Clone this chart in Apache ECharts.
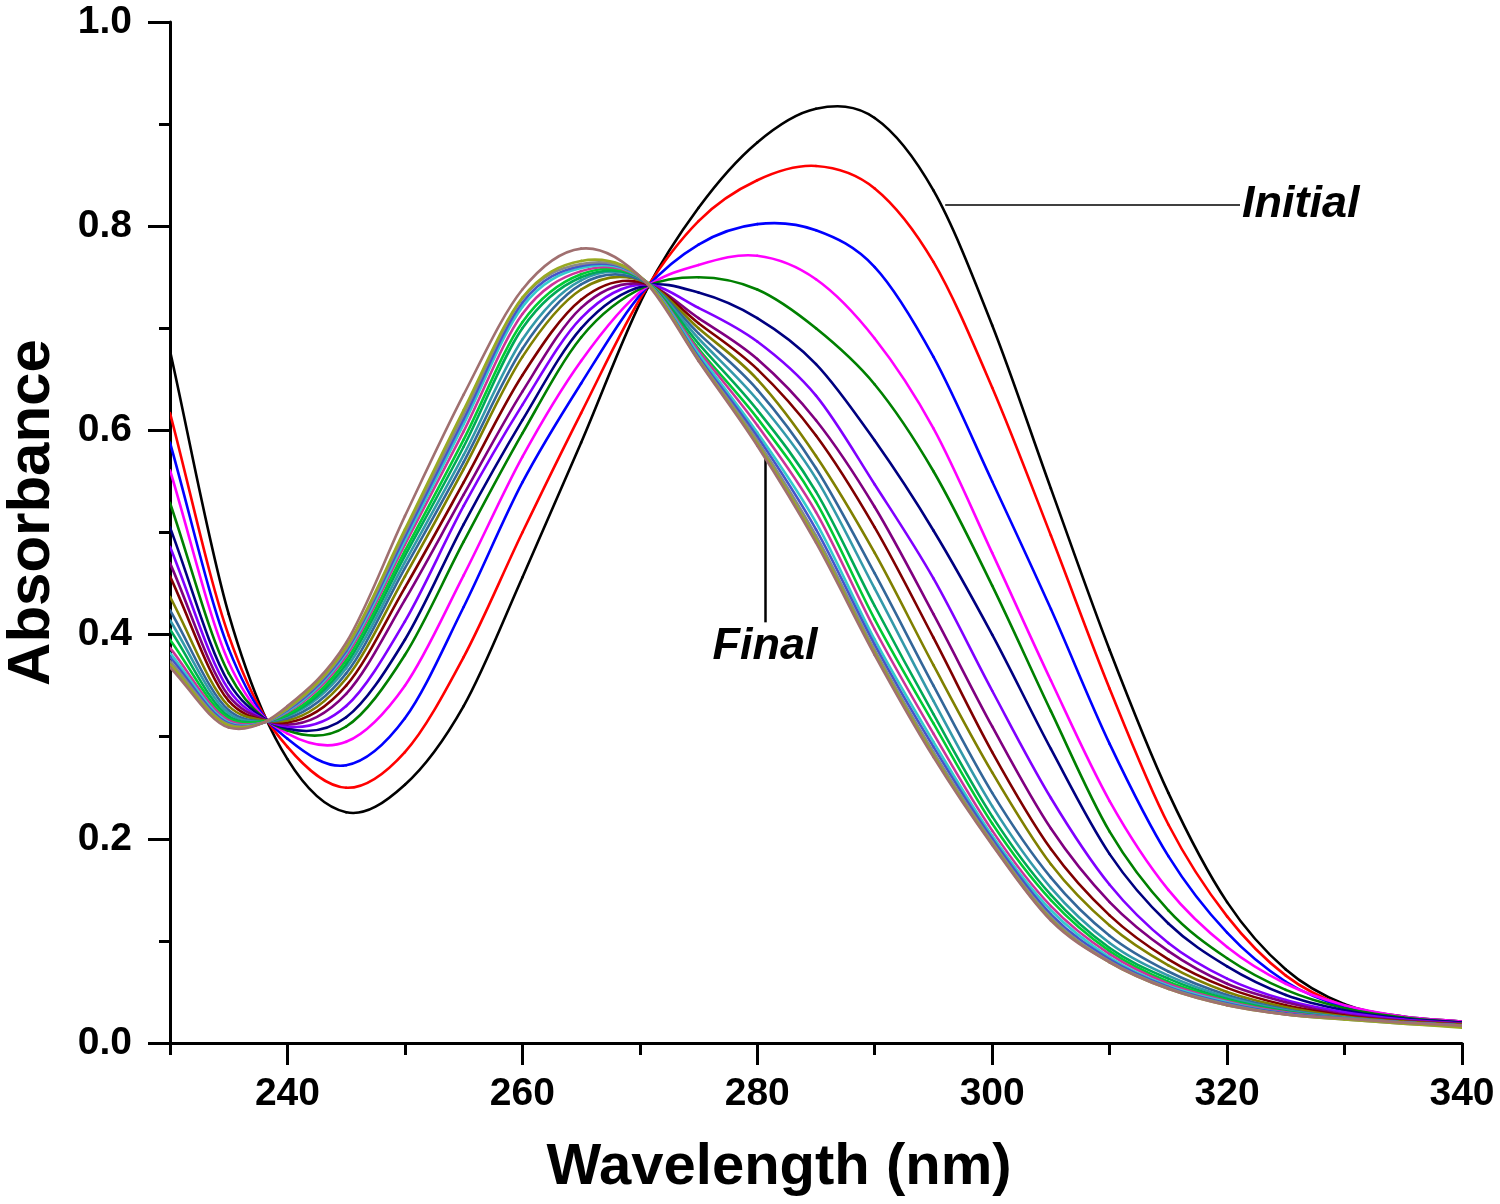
<!DOCTYPE html>
<html>
<head>
<meta charset="utf-8">
<title>Absorbance vs Wavelength</title>
<script src="https://cdn.jsdelivr.net/npm/echarts@6/dist/echarts.min.js"></script>
<style>
  html, body { margin: 0; padding: 0; background: #fff; }
  #chart { width: 1500px; height: 1204px; }
</style>
</head>
<body>
<div id="chart"></div>
<script>
// wavelength grid (nm)
const wavelength = [230, 235, 238, 240, 245, 250, 255, 260, 265, 270.5, 275, 280, 285, 290, 295, 300, 305, 310, 315, 320, 325, 330, 335, 340]

// absorbance of each scan, initial (scan1) to final (scan20)
const scan1 = [0.678, 0.42, 0.322, 0.278, 0.226, 0.253, 0.33, 0.456, 0.588, 0.736, 0.818, 0.882, 0.915, 0.906, 0.835, 0.703, 0.543, 0.385, 0.245, 0.138, 0.072, 0.038, 0.026, 0.021]
const scan2 = [0.617, 0.399, 0.321, 0.29, 0.25, 0.285, 0.378, 0.5, 0.617, 0.738, 0.805, 0.845, 0.859, 0.837, 0.765, 0.642, 0.497, 0.347, 0.214, 0.124, 0.066, 0.036, 0.025, 0.02]
const scan3 = [0.588, 0.386, 0.32, 0.298, 0.272, 0.318, 0.427, 0.549, 0.646, 0.739, 0.782, 0.802, 0.796, 0.76, 0.672, 0.55, 0.425, 0.293, 0.183, 0.108, 0.06, 0.035, 0.025, 0.02]
const scan4 = [0.561, 0.373, 0.319, 0.303, 0.295, 0.35, 0.458, 0.574, 0.668, 0.74, 0.762, 0.771, 0.748, 0.69, 0.602, 0.48, 0.355, 0.237, 0.15, 0.094, 0.058, 0.037, 0.026, 0.021]
const scan5 = [0.529, 0.362, 0.318, 0.306, 0.31, 0.38, 0.491, 0.597, 0.691, 0.741, 0.75, 0.738, 0.7, 0.645, 0.56, 0.448, 0.325, 0.207, 0.13, 0.083, 0.052, 0.034, 0.025, 0.02]
const scan6 = [0.505, 0.353, 0.318, 0.308, 0.319, 0.395, 0.508, 0.61, 0.7, 0.742, 0.735, 0.71, 0.665, 0.59, 0.502, 0.4, 0.288, 0.185, 0.117, 0.075, 0.047, 0.032, 0.024, 0.02]
const scan7 = [0.486, 0.346, 0.317, 0.31, 0.33, 0.413, 0.526, 0.625, 0.71, 0.743, 0.72, 0.687, 0.634, 0.547, 0.455, 0.345, 0.24, 0.155, 0.098, 0.063, 0.042, 0.03, 0.023, 0.019]
const scan8 = [0.47, 0.34, 0.317, 0.312, 0.342, 0.434, 0.537, 0.638, 0.72, 0.743, 0.71, 0.67, 0.61, 0.525, 0.42, 0.31, 0.21, 0.138, 0.09, 0.058, 0.04, 0.028, 0.022, 0.019]
const scan9 = [0.457, 0.335, 0.316, 0.314, 0.35, 0.446, 0.549, 0.654, 0.728, 0.744, 0.705, 0.66, 0.595, 0.505, 0.397, 0.285, 0.19, 0.125, 0.082, 0.054, 0.037, 0.027, 0.021, 0.018]
const scan10 = [0.437, 0.33, 0.316, 0.316, 0.357, 0.457, 0.562, 0.672, 0.738, 0.745, 0.7, 0.65, 0.575, 0.48, 0.37, 0.265, 0.175, 0.115, 0.076, 0.05, 0.035, 0.026, 0.021, 0.018]
const scan11 = [0.424, 0.326, 0.315, 0.318, 0.362, 0.465, 0.569, 0.68, 0.743, 0.745, 0.695, 0.64, 0.563, 0.46, 0.35, 0.245, 0.162, 0.105, 0.07, 0.047, 0.033, 0.025, 0.02, 0.017]
const scan12 = [0.414, 0.323, 0.315, 0.32, 0.367, 0.471, 0.576, 0.689, 0.747, 0.746, 0.69, 0.63, 0.553, 0.445, 0.335, 0.232, 0.152, 0.098, 0.066, 0.045, 0.032, 0.025, 0.02, 0.017]
const scan13 = [0.405, 0.32, 0.315, 0.321, 0.371, 0.477, 0.584, 0.7, 0.75, 0.746, 0.685, 0.62, 0.54, 0.428, 0.322, 0.222, 0.145, 0.093, 0.063, 0.043, 0.031, 0.024, 0.02, 0.017]
const scan14 = [0.395, 0.318, 0.315, 0.322, 0.375, 0.482, 0.591, 0.706, 0.753, 0.746, 0.68, 0.612, 0.53, 0.415, 0.313, 0.215, 0.14, 0.09, 0.06, 0.042, 0.03, 0.024, 0.02, 0.017]
const scan15 = [0.387, 0.316, 0.314, 0.324, 0.379, 0.488, 0.599, 0.714, 0.756, 0.746, 0.678, 0.605, 0.52, 0.405, 0.303, 0.208, 0.134, 0.087, 0.058, 0.041, 0.03, 0.024, 0.02, 0.017]
const scan16 = [0.382, 0.314, 0.314, 0.325, 0.382, 0.492, 0.606, 0.721, 0.759, 0.746, 0.675, 0.598, 0.51, 0.395, 0.295, 0.203, 0.13, 0.084, 0.056, 0.04, 0.029, 0.024, 0.02, 0.017]
const scan17 = [0.378, 0.313, 0.314, 0.326, 0.384, 0.496, 0.611, 0.725, 0.761, 0.746, 0.672, 0.594, 0.503, 0.39, 0.29, 0.2, 0.126, 0.082, 0.055, 0.039, 0.029, 0.024, 0.02, 0.017]
const scan18 = [0.374, 0.312, 0.314, 0.327, 0.386, 0.5, 0.616, 0.729, 0.763, 0.746, 0.67, 0.59, 0.497, 0.385, 0.285, 0.197, 0.123, 0.08, 0.054, 0.038, 0.028, 0.023, 0.019, 0.016]
const scan19 = [0.371, 0.311, 0.314, 0.328, 0.388, 0.503, 0.62, 0.73, 0.766, 0.746, 0.669, 0.587, 0.493, 0.382, 0.282, 0.195, 0.121, 0.079, 0.053, 0.037, 0.028, 0.023, 0.019, 0.015]
const scan20 = [0.368, 0.309, 0.314, 0.33, 0.392, 0.516, 0.635, 0.738, 0.778, 0.745, 0.668, 0.585, 0.49, 0.38, 0.28, 0.194, 0.12, 0.079, 0.053, 0.037, 0.028, 0.024, 0.02, 0.017]

const scans = [scan1, scan2, scan3, scan4, scan5, scan6, scan7, scan8, scan9, scan10,
  scan11, scan12, scan13, scan14, scan15, scan16, scan17, scan18, scan19, scan20]

// tick values
const xMajorTicks = [240, 260, 280, 300, 320, 340]
const xMinorTicks = [230, 250, 270, 290, 310, 330]

// annotation leaders, in data units
const initialLeader = [[296, 0.821], [321.1, 0.821]]
const finalLeader = [[280.66, 0.576], [280.66, 0.412]]

const lineColors = ['#000000', '#FF0000', '#0000FF', '#FF00FF', '#008000', '#000080', '#8000FF', '#800080',
  '#800000', '#808000', '#336699', '#3399AA', '#00AA55', '#00CC33', '#CC3399', '#33CCCC',
  '#4455CC', '#888888', '#99AA22', '#A07070']

const FONT = '"Liberation Sans", Arial, sans-serif'

const myChart = echarts.init(document.getElementById('chart'))

// cubic hermite tangents (pixel space), handles the uneven wavelength steps
function tangents (px) {
  const n = px.length
  const m = []
  for (let i = 0; i < n; i++) {
    if (i === 0) {
      m.push((px[1][1] - px[0][1]) / (px[1][0] - px[0][0]))
    } else if (i === n - 1) {
      m.push((px[n - 1][1] - px[n - 2][1]) / (px[n - 1][0] - px[n - 2][0]))
    } else {
      const h0 = px[i][0] - px[i - 1][0]
      const h1 = px[i + 1][0] - px[i][0]
      const s0 = (px[i][1] - px[i - 1][1]) / h0
      const s1 = (px[i + 1][1] - px[i][1]) / h1
      m.push((s0 * h1 + s1 * h0) / (h0 + h1))
    }
  }
  return m
}

const series = scans.map((vals, i) => ({
  name: 'scan ' + (i + 1),
  type: 'custom',
  data: wavelength.map((w, k) => [w, vals[k]]),
  encode: { x: 0, y: 1 },
  clip: true,
  silent: true,
  z: 2 + i,
  renderItem: (params, api) => {
    const k = params.dataIndex
    if (k >= wavelength.length - 1) return null
    const px = wavelength.map((w, j) => api.coord([w, vals[j]]))
    const m = tangents(px)
    const h = px[k + 1][0] - px[k][0]
    return {
      type: 'bezierCurve',
      shape: {
        x1: px[k][0], y1: px[k][1],
        cpx1: px[k][0] + h / 3, cpy1: px[k][1] + m[k] * h / 3,
        cpx2: px[k + 1][0] - h / 3, cpy2: px[k + 1][1] - m[k + 1] * h / 3,
        x2: px[k + 1][0], y2: px[k + 1][1],
      },
      style: { stroke: lineColors[i], lineWidth: 2.6, fill: null, lineCap: 'round' },
    }
  },
}))

const leaderLabel = {
  show: true,
  position: 'end',
  distance: 2,
  color: '#000',
  fontFamily: FONT,
  fontStyle: 'italic',
  fontWeight: 'bold',
  fontSize: 45,
}

// leaders with their labels
series.push({
  name: 'labels',
  type: 'line',
  data: [],
  silent: true,
  z: 30,
  markLine: {
    silent: true,
    animation: false,
    symbol: ['none', 'none'],
    lineStyle: { color: '#000', type: 'solid' },
    data: [
      [{ coord: initialLeader[0], lineStyle: { width: 1.5 }, label: { ...leaderLabel, formatter: 'Initial' } },
        { coord: initialLeader[1] }],
      [{ coord: finalLeader[0], lineStyle: { width: 2.5 }, label: { ...leaderLabel, formatter: 'Final' } },
        { coord: finalLeader[1] }],
    ],
  },
})

const axisFont = { color: '#000', fontFamily: FONT, fontWeight: 'bold', fontSize: 39 }

myChart.setOption({
  backgroundColor: '#fff',
  animation: false,
  grid: { left: 170, right: 38, top: 22, bottom: 161, containLabel: false, outerBoundsMode: 'none' },
  xAxis: [
    {
      type: 'value',
      min: 230,
      max: 340,
      position: 'bottom',
      axisLine: { show: true, lineStyle: { color: '#000', width: 3 } },
      axisTick: { show: true, inside: false, length: 22, customValues: xMajorTicks, lineStyle: { color: '#000', width: 3 } },
      axisLabel: { ...axisFont, margin: 32, customValues: xMajorTicks },
      splitLine: { show: false },
      name: 'Wavelength (nm)',
      nameLocation: 'middle',
      nameGap: 96,
      nameTextStyle: { color: '#000', fontFamily: FONT, fontWeight: 'bold', fontSize: 58, padding: [0, 74, 0, 0] },
    },
    {
      type: 'value',
      min: 230,
      max: 340,
      position: 'bottom',
      axisLine: { show: false },
      axisTick: { show: true, inside: false, length: 12, customValues: xMinorTicks, lineStyle: { color: '#000', width: 3 } },
      axisLabel: { show: false },
      splitLine: { show: false },
    },
  ],
  yAxis: {
    type: 'value',
    min: 0,
    max: 1,
    interval: 0.2,
    axisLine: { show: true, lineStyle: { color: '#000', width: 3 } },
    axisTick: { show: true, inside: false, length: 22, lineStyle: { color: '#000', width: 3 } },
    minorTick: { show: true, splitNumber: 2, length: 11, lineStyle: { color: '#000', width: 3 } },
    axisLabel: { ...axisFont, margin: 38, formatter: (v) => v.toFixed(1) },
    splitLine: { show: false },
    minorSplitLine: { show: false },
    name: 'Absorbance',
    nameLocation: 'middle',
    nameGap: 108,
    nameTextStyle: { color: '#000', fontFamily: FONT, fontWeight: 'bold', fontSize: 60, padding: [0, 0, 0, 40] },
  },
  series: series,
})
</script>
</body>
</html>
